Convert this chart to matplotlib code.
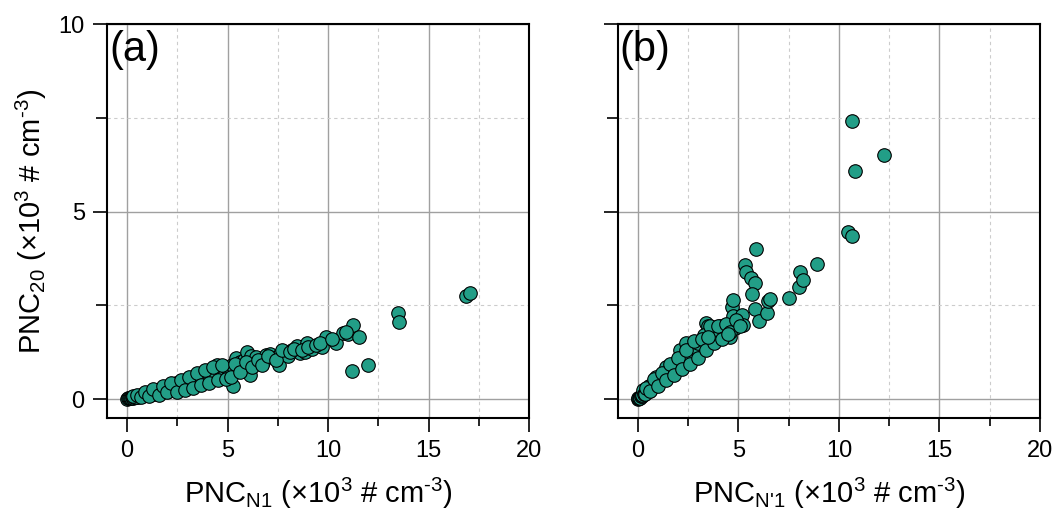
import matplotlib
matplotlib.use("Agg")
import matplotlib.pyplot as plt
from matplotlib.ticker import MultipleLocator

plt.rcParams['font.family'] = ['Liberation Sans', 'DejaVu Sans']
plt.rcParams['mathtext.fontset'] = 'custom'
plt.rcParams['mathtext.rm'] = 'Liberation Sans'

# Panel (a): PNC_N1 vs PNC_20 (x10^3 # cm^-3)
xa = [0.0, 0.05, 0.1, 0.15, 0.2, 0.25, 0.3, 0.35, 0.4, 0.5, 0.55, 0.6, 0.7, 0.75, 0.8, 0.9,
      1.0, 1.05, 1.1, 1.2, 1.3, 1.35, 1.4, 1.5, 1.55, 1.6, 1.7, 1.8, 1.9, 1.95, 2.0, 2.1,
      2.2, 2.3, 2.4, 2.45, 2.5, 2.6, 2.7, 2.8, 2.9, 3.0, 3.05, 3.1, 3.2, 3.3, 3.4, 3.5,
      3.6, 3.65, 3.7, 3.8, 3.9, 4.0, 4.05, 4.1, 4.2, 4.3, 4.4, 4.45, 4.5, 4.6, 4.7, 4.78,
      4.8, 4.9, 5.0, 5.05, 5.1, 5.2, 5.28, 5.4, 5.5, 5.6, 5.7, 5.8, 5.98, 6.0, 6.11, 6.16,
      6.3, 6.4, 6.6, 6.78, 6.9, 7.11, 7.3, 7.56, 7.6, 7.79, 8.0, 8.2, 8.44, 8.6, 8.87, 8.94,
      9.2, 9.7, 9.9, 10.4, 10.73, 11.0, 11.26, 11.53, 11.18, 12.0, 13.5, 13.54, 16.86, 17.04,
      0.45, 0.65, 0.85, 1.15, 1.45, 1.75, 2.05, 2.35, 2.65, 2.95, 3.25, 3.55, 3.85, 4.15,
      0.3, 0.5, 0.7, 0.9, 1.1, 1.3, 1.6, 1.8, 2.0, 2.2, 2.5, 2.7, 2.9, 3.1, 3.3, 3.5,
      3.7, 3.9, 4.1, 4.3, 4.5, 4.7, 4.9, 5.15, 5.35, 5.6, 5.9, 6.2, 6.5, 6.7, 7.0, 7.4,
      7.7, 8.1, 8.3, 8.7, 9.0, 9.4, 9.6, 10.2, 10.9]
ya = [0.0, 0.02, 0.03, 0.02, 0.04, 0.05, 0.04, 0.06, 0.07, 0.08, 0.06, 0.09, 0.11, 0.08, 0.12, 0.13,
      0.15, 0.11, 0.16, 0.18, 0.2, 0.15, 0.22, 0.23, 0.17, 0.25, 0.26, 0.28, 0.24, 0.29, 0.31, 0.25,
      0.34, 0.3, 0.37, 0.43, 0.27, 0.41, 0.33, 0.45, 0.36, 0.5, 0.53, 0.4, 0.54, 0.42, 0.58, 0.47,
      0.6, 0.68, 0.5, 0.65, 0.55, 0.69, 0.74, 0.5, 0.72, 0.62, 0.8, 0.92, 0.68, 0.82, 0.78, 0.78,
      0.62, 0.86, 0.8, 0.78, 0.7, 0.9, 0.34, 1.09, 0.88, 0.98, 0.82, 1.05, 1.27, 0.95, 0.65, 1.14,
      1.02, 1.12, 0.98, 1.0, 1.18, 1.21, 1.1, 0.92, 1.2, 1.23, 1.15, 1.3, 1.41, 1.22, 1.27, 1.49,
      1.35, 1.39, 1.67, 1.49, 1.76, 1.73, 1.98, 1.67, 0.74, 0.92, 2.31, 2.06, 2.74, 2.83,
      0.05, 0.08, 0.1, 0.13, 0.17, 0.2, 0.22, 0.27, 0.3, 0.33, 0.38, 0.42, 0.46, 0.56,
      0.08, 0.12, 0.05, 0.2, 0.08, 0.28, 0.12, 0.35, 0.18, 0.42, 0.2, 0.5, 0.25, 0.6, 0.3, 0.7,
      0.38, 0.78, 0.42, 0.85, 0.5, 0.9, 0.55, 0.6, 0.95, 0.72, 1.0, 0.85, 1.05, 0.9, 1.15, 1.05,
      1.3, 1.25, 1.35, 1.3, 1.4, 1.45, 1.5, 1.6, 1.78]

# Panel (b): PNC_N'1 vs PNC_20 (x10^3 # cm^-3)
xb = [0.0, 0.03, 0.06, 0.1, 0.12, 0.15, 0.2, 0.22, 0.25, 0.3, 0.35, 0.4, 0.45, 0.5, 0.55, 0.58,
      0.6, 0.7, 0.75, 0.8, 0.85, 0.91, 1.0, 1.1, 1.2, 1.3, 1.41, 1.5, 1.6, 1.66, 1.75, 1.85,
      1.95, 2.08, 2.2, 2.3, 2.41, 2.41, 2.5, 2.6, 2.7, 2.8, 2.99, 3.1, 3.2, 3.3, 3.41, 3.49,
      3.49, 3.6, 3.7, 3.8, 3.91, 4.0, 4.1, 4.24, 4.4, 4.57, 4.67, 4.74, 4.82, 5.0, 5.2, 5.24,
      5.34, 5.40, 5.62, 5.84, 5.89, 5.69, 5.85, 6.03, 6.4, 6.49, 6.57, 7.51, 8.0, 8.08, 8.2, 8.89,
      10.44, 10.67, 10.64, 10.82, 12.22, 0.35, 0.65, 0.95, 1.25, 1.55, 1.9, 2.15, 2.45, 2.75, 3.0, 3.3,
      0.4, 0.6, 0.8, 1.0, 1.2, 1.4, 1.6, 1.8, 2.0, 2.2, 2.4, 2.6, 2.8, 3.0, 3.2, 3.4,
      3.6, 3.8, 4.0, 4.2, 4.4, 4.6, 4.75, 4.9, 5.1, 4.5, 3.5]
yb = [0.0, 0.02, 0.03, 0.05, 0.04, 0.08, 0.09, 0.12, 0.25, 0.14, 0.17, 0.2, 0.18, 0.24, 0.22, 0.34,
      0.3, 0.32, 0.36, 0.4, 0.38, 0.6, 0.45, 0.5, 0.55, 0.62, 0.87, 0.68, 0.72, 0.78, 0.82, 0.9,
      0.85, 1.32, 0.98, 1.05, 1.49, 0.96, 1.12, 1.2, 1.25, 1.3, 1.32, 1.4, 1.35, 1.45, 2.03, 1.94,
      1.54, 1.6, 1.75, 1.8, 1.9, 1.85, 1.95, 1.9, 1.82, 1.65, 2.47, 2.21, 1.9, 2.0, 2.25, 1.98,
      3.57, 3.38, 3.23, 3.10, 4.0, 2.81, 2.41, 2.09, 2.30, 2.61, 2.68, 2.71, 2.99, 3.38, 3.17, 3.6,
      4.46, 4.34, 7.41, 6.08, 6.50, 0.15, 0.28, 0.42, 0.58, 0.75, 1.0, 1.1, 1.22, 1.38, 1.5, 1.7,
      0.3, 0.22, 0.55, 0.35, 0.7, 0.5, 0.95, 0.65, 1.1, 0.8, 1.3, 0.95, 1.55, 1.1, 1.6, 1.3,
      1.95, 1.5, 1.95, 1.6, 2.0, 1.8, 2.65, 2.1, 1.95, 1.75, 1.65]

fig = plt.figure(figsize=(10.57, 5.14), dpi=100)
ax1 = fig.add_axes([0.1012, 0.1868, 0.3993, 0.7665])
ax2 = fig.add_axes([0.5844, 0.1868, 0.3995, 0.7665])

color = '#229e87'
unit = r' (×10$^{\mathrm{3}}$ # cm$^{\text{-3}}$)'
xlab_a = r'PNC$_{\mathrm{N1}}$' + unit
xlab_b = r"PNC$_{\text{N'1}}$" + unit
ylab = r'PNC$_{\mathrm{20}}$' + unit
for ax, x, y, lab, xl in [(ax1, xa, ya, '(a)', xlab_a), (ax2, xb, yb, '(b)', xlab_b)]:
    ax.set_xlim(-1, 20)
    ax.set_ylim(-0.5, 10)
    ax.xaxis.set_major_locator(MultipleLocator(5))
    ax.xaxis.set_minor_locator(MultipleLocator(2.5))
    ax.yaxis.set_major_locator(MultipleLocator(5))
    ax.yaxis.set_minor_locator(MultipleLocator(2.5))
    ax.grid(which='major', color='#a0a0a0', lw=1.0, ls='-')
    ax.grid(which='minor', color='#cccccc', lw=0.8, ls=(0, (3, 3)))
    ax.set_axisbelow(True)
    ax.scatter(x, y, s=95, c=color, edgecolors='black', linewidths=0.8, zorder=3)
    ax.tick_params(which='major', direction='out', length=10, width=1.2, labelsize=17, pad=6)
    ax.tick_params(axis='y', which='minor', direction='out', length=8, width=1.2)
    ax.tick_params(axis='x', which='minor', direction='out', length=6, width=1.2)
    for sp in ax.spines.values():
        sp.set_linewidth(1.5)
    ax.text(0.005, 0.985, lab, transform=ax.transAxes, fontsize=30, va='top', ha='left')
    ax.set_xlabel(xl, fontsize=21, labelpad=10)

ax1.set_ylabel(ylab, fontsize=21, labelpad=7)
ax2.tick_params(axis='y', labelleft=False)

fig.savefig('out.png', dpi=100)
